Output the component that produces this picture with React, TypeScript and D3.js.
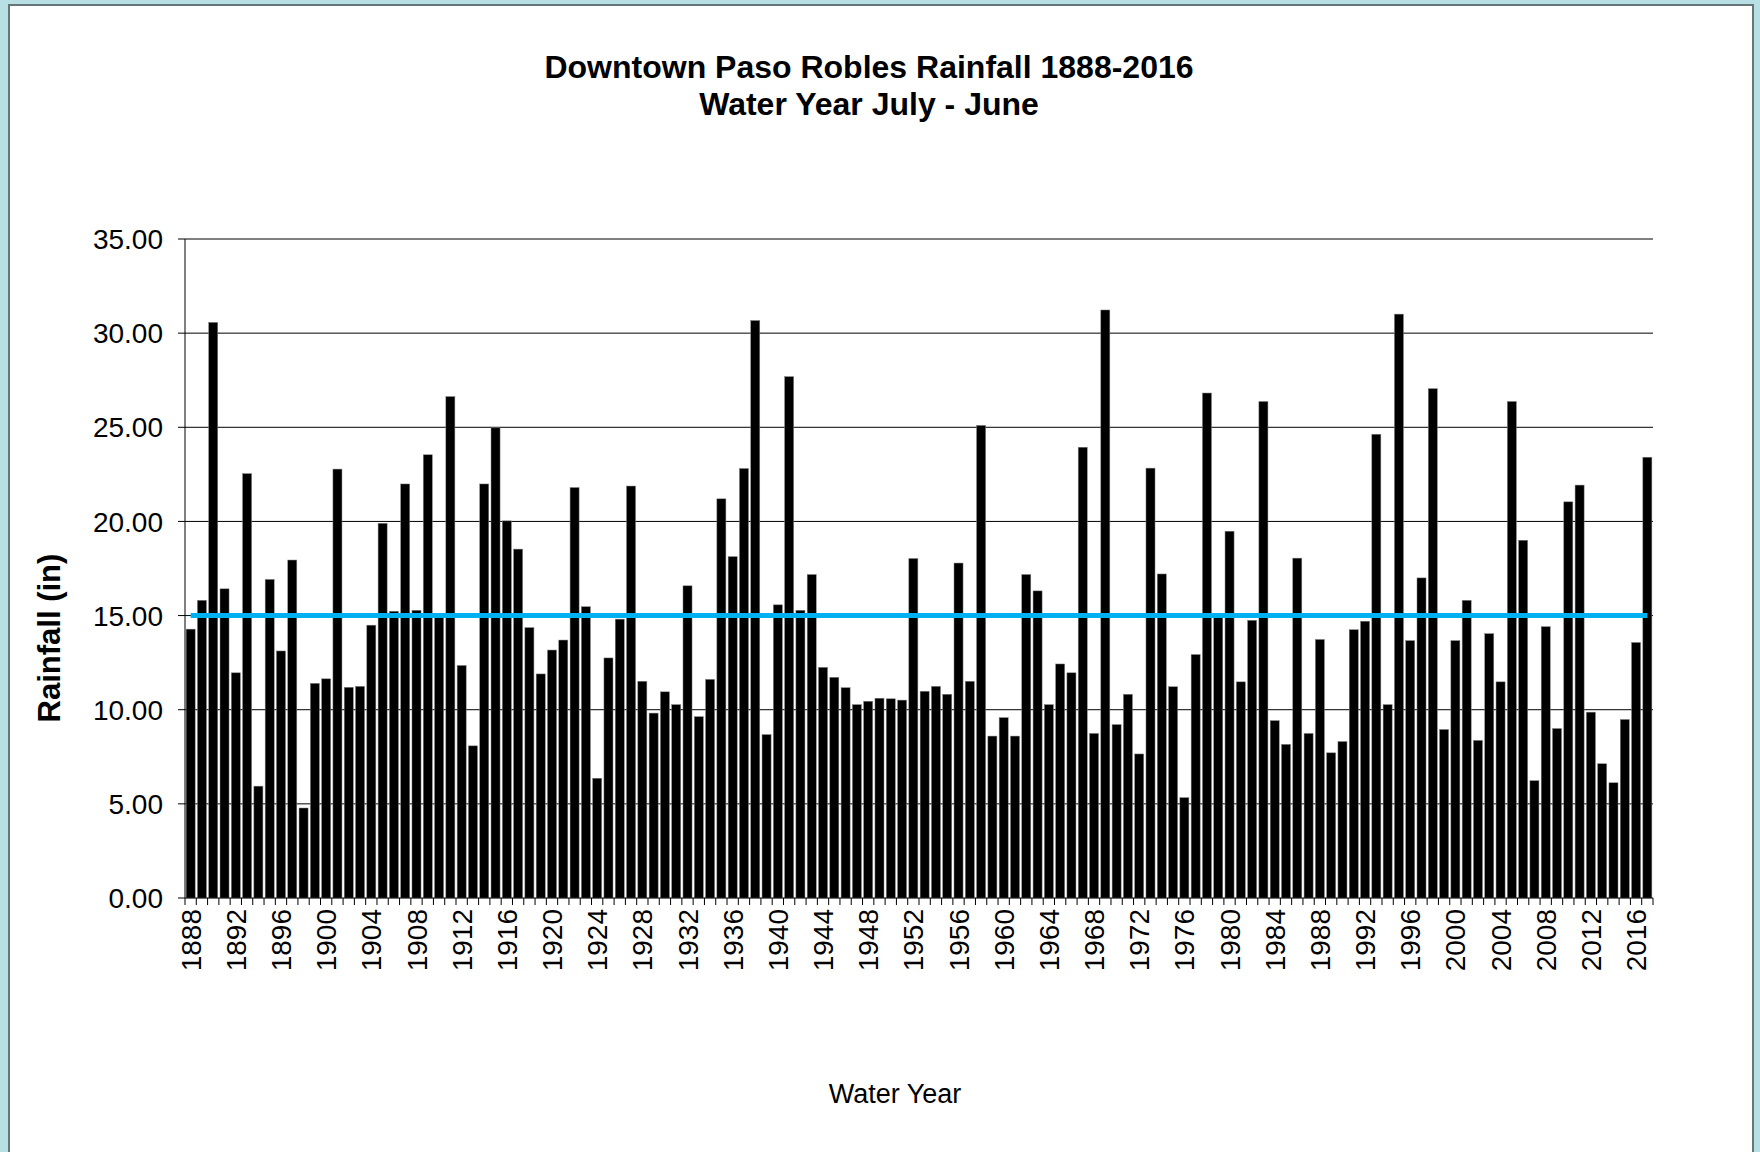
import * as d3 from "d3";

// water years 1888 .. 2017 (last bar is unlabeled)
const startYear = 1888;
const rainfall = [
  14.28, 15.81, 30.57, 16.42, 11.96, 22.54, 5.94, 16.92, 13.12, 17.95,
  4.78, 11.4, 11.64, 22.78, 11.19, 11.24, 14.49, 19.9, 15.23, 21.99,
  15.28, 23.54, 15.1, 26.63, 12.35, 8.08, 21.99, 24.97, 20.03, 18.53,
  14.36, 11.9, 13.17, 13.7, 21.8, 15.47, 6.36, 12.75, 14.81, 21.88,
  11.51, 9.82, 10.95, 10.27, 16.58, 9.63, 11.61, 21.2, 18.13, 22.81,
  30.67, 8.68, 15.57, 27.69, 15.28, 17.18, 12.25, 11.72, 11.17, 10.27,
  10.45, 10.61, 10.58, 10.51, 18.03, 10.98, 11.24, 10.82, 17.79, 11.51,
  25.1, 8.6, 9.58, 8.6, 17.18, 16.31, 10.27, 12.43, 11.96, 23.94,
  8.74, 31.23, 9.21, 10.82, 7.65, 22.83, 17.21, 11.22, 5.33, 12.93,
  26.82, 14.9, 19.48, 11.48, 14.75, 26.37, 9.42, 8.16, 18.05, 8.74,
  13.73, 7.71, 8.31, 14.25, 14.7, 24.63, 10.27, 31.01, 13.67, 17.0,
  27.05, 8.95, 13.67, 15.81, 8.37, 14.04, 11.48, 26.37, 19.0, 6.23,
  14.41, 9.0, 21.04, 21.93, 9.87, 7.13, 6.12, 9.48, 13.57, 23.41,
];
const years = rainfall.map((_, i) => String(startYear + i));
const averageRainfall = 15.0;
const yTicks = [0, 5, 10, 15, 20, 25, 30, 35];

const W = 1760;
const H = 1152;
const plot = { left: 185, right: 1653, top: 239, bottom: 898 };
const font = "'Liberation Sans', Arial, sans-serif";

export default function App() {
  const x = d3
    .scaleBand()
    .domain(years)
    .range([plot.left, plot.right])
    .paddingInner(0.2)
    .paddingOuter(0.1);
  const y = d3.scaleLinear().domain([0, 35]).range([plot.bottom, plot.top]);
  const step = x.step();
  const x0 = plot.left;

  const boundaries = d3.range(years.length + 1).map((i) => x0 + i * step);
  const center = (yr: string) => (x(yr) as number) + x.bandwidth() / 2;

  const avgLine = d3
    .line<string>()
    .x((d) => center(d))
    .y(() => y(averageRainfall));

  return (
    <svg
      width={W}
      height={H}
      style={{ position: "absolute", left: 0, top: 0, fontFamily: font }}
    >
      <rect x={0} y={0} width={W} height={H} fill="#b8dfe3" />
      <rect x={9} y={5} width={1744} height={H + 20} fill="#fff" stroke="#667676" strokeWidth={2} />

      {/* title */}
      <text x={869} y={78} textAnchor="middle" fontSize={32} fontWeight="bold">
        Downtown Paso Robles Rainfall 1888-2016
      </text>
      <text x={869} y={115} textAnchor="middle" fontSize={32} fontWeight="bold">
        Water Year July - June
      </text>

      {/* gridlines + y axis labels */}
      {yTicks.map((t) => (
        <g key={t}>
          {t > 0 && (
            <line x1={plot.left} x2={plot.right} y1={y(t)} y2={y(t)} stroke="#000" strokeWidth={1} />
          )}
          <line x1={plot.left - 7} x2={plot.left} y1={y(t)} y2={y(t)} stroke="#000" />
          <text x={163} y={y(t)} dy="0.36em" textAnchor="end" fontSize={28}>
            {d3.format(".2f")(t)}
          </text>
        </g>
      ))}

      {/* bars */}
      {rainfall.map((v, i) => (
        <rect
          key={years[i]}
          x={x(years[i])}
          y={y(v)}
          width={x.bandwidth()}
          height={plot.bottom - y(v)}
          fill="#000"
          stroke="#808080"
          strokeWidth={0.5}
        />
      ))}

      {/* average line */}
      <path d={avgLine(years) || ""} fill="none" stroke="#00b0f0" strokeWidth={5} />

      {/* axes */}
      <line x1={plot.left} x2={plot.left} y1={plot.top} y2={plot.bottom} stroke="#000" />
      <line x1={plot.left} x2={plot.right} y1={plot.bottom} y2={plot.bottom} stroke="#000" />
      {boundaries.map((bx, i) => (
        <line key={i} x1={bx} x2={bx} y1={plot.bottom} y2={plot.bottom + 7} stroke="#000" />
      ))}
      {years.map((yr, i) =>
        i % 4 === 0 && i < 129 ? (
          <text
            key={yr}
            transform={`translate(${center(yr)},${plot.bottom + 11}) rotate(-90)`}
            dy="0.36em"
            textAnchor="end"
            fontSize={28}
          >
            {yr}
          </text>
        ) : null
      )}

      {/* axis titles */}
      <text
        transform={`translate(49,638) rotate(-90)`}
        dy="0.36em"
        textAnchor="middle"
        fontSize={31}
        fontWeight="bold"
      >
        Rainfall (in)
      </text>
      <text x={895} y={1103} textAnchor="middle" fontSize={27}>
        Water Year
      </text>
    </svg>
  );
}
